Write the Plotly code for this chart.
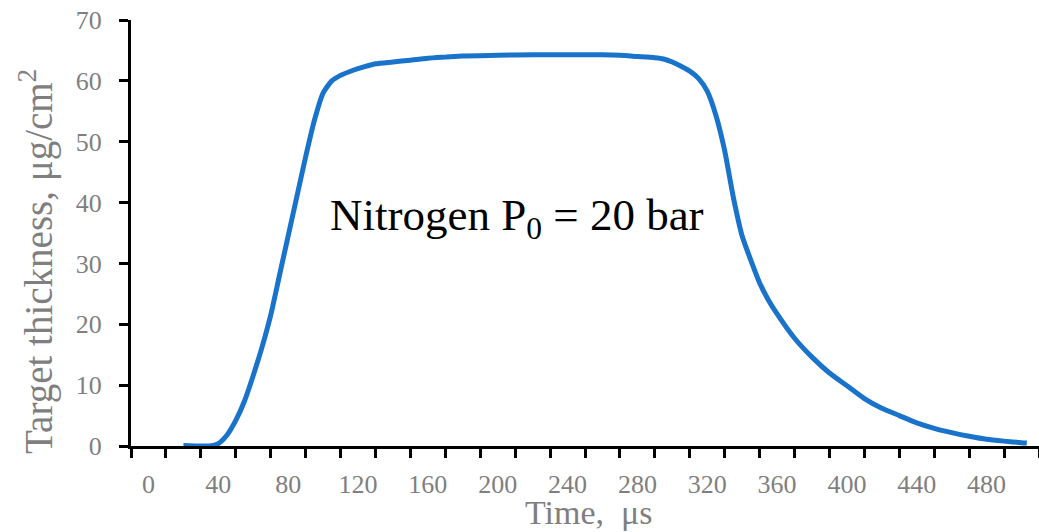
import plotly.graph_objects as go

time_us = [20, 30, 35, 40, 45, 50, 55, 60, 65, 70, 75, 80, 85, 90, 95, 100, 105, 110,
           115, 120, 130, 140, 150, 160, 170, 180, 200, 220, 240, 260, 270, 280, 290,
           295, 300, 305, 310, 315, 320, 325, 330, 335, 340, 345, 350, 355, 360, 370,
           380, 390, 400, 410, 420, 430, 440, 450, 460, 470, 480, 490, 500, 503]
thickness = [0.1, 0.0, 0.0, 0.4, 1.8, 4.2, 7.4, 11.6, 16.2, 21.5, 28.0, 34.5, 41.0, 47.5,
             53.5, 58.0, 60.0, 60.9, 61.5, 62.0, 62.8, 63.1, 63.4, 63.7, 63.9, 64.1, 64.2,
             64.3, 64.3, 64.3, 64.2, 64.0, 63.8, 63.6, 63.1, 62.4, 61.6, 60.4, 58.3, 54.3,
             48.5, 40.8, 34.5, 30.5, 26.8, 24.0, 21.7, 17.7, 14.6, 12.0, 9.9, 7.8, 6.2,
             5.0, 3.8, 2.9, 2.2, 1.6, 1.1, 0.8, 0.55, 0.5]

x_label_vals = list(range(0, 481, 40))
y_tick_vals = list(range(0, 71, 10))

FONT = "Liberation Serif"
GRAY = "#7f7f7f"

fig = go.Figure()
fig.add_trace(go.Scatter(x=time_us, y=thickness, mode="lines",
                         line=dict(color="#1a73cb", width=5, shape="spline", smoothing=0.6),
                         hoverinfo="skip"))

fig.update_layout(
    width=1039, height=532,
    margin=dict(l=131, r=0, t=20, b=86),
    paper_bgcolor="white", plot_bgcolor="white",
    showlegend=False,
    xaxis=dict(range=[-10, 510], showgrid=False, zeroline=False,
               showline=True, linecolor="black", linewidth=3,
               tickmode="array", tickvals=x_label_vals,
               ticktext=[str(v) for v in x_label_vals],
               ticks="", ticklabelstandoff=13,
               tickfont=dict(family=FONT, size=26, color=GRAY),
               minor=dict(ticks="outside", ticklen=9, tickwidth=3, tickcolor="black",
                          tick0=-10, dtick=20, showgrid=False)),
    yaxis=dict(range=[0, 70], showgrid=False, zeroline=False,
               showline=True, linecolor="black", linewidth=3,
               tickmode="array", tickvals=y_tick_vals,
               ticks="outside", ticklen=9, tickwidth=3, tickcolor="black",
               ticklabelstandoff=12,
               tickfont=dict(family=FONT, size=26, color=GRAY)),
)

W, H = 1039, 532
pw, ph = W - 131, H - 20 - 86

fig.add_annotation(x=103, y=37.5, xref="x", yref="y", xanchor="left", yanchor="middle",
                   text="Nitrogen P<sub>0</sub> = 20 bar", showarrow=False,
                   font=dict(family=FONT, size=45, color="black"))
fig.add_annotation(x=(589 - 131) / pw, y=(H - 86 - 532) / ph, xref="paper", yref="paper",
                   xanchor="center", yanchor="bottom", showarrow=False, borderpad=0,
                   text="Time,  μs", font=dict(family=FONT, size=34, color=GRAY))
fig.add_annotation(x=(36 - 131) / pw, y=(H - 86 - 262) / ph, xref="paper", yref="paper",
                   xanchor="center", yanchor="middle", showarrow=False, textangle=-90,
                   text="Target thickness, μg/cm<sup>2</sup>",
                   font=dict(family=FONT, size=39, color=GRAY))

fig.write_html("out.html")
